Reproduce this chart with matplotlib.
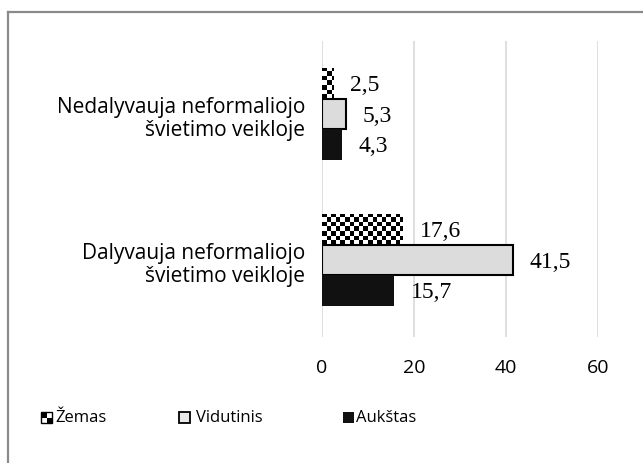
import numpy as np
import matplotlib
matplotlib.use("Agg")
import matplotlib.pyplot as plt
from matplotlib.patches import Rectangle
from matplotlib.lines import Line2D

# data
categories = ["Dalyvauja neformaliojo\nšvietimo veikloje",
              "Nedalyvauja neformaliojo\nšvietimo veikloje"]
series_names = ["Žemas", "Vidutinis", "Aukštas"]
zemas = [17.6, 2.5]
vidutinis = [41.5, 5.3]
aukstas = [15.7, 4.3]
xticks = [0, 20, 40, 60]

sans = "Open Sans"
serif = "Liberation Serif"

fig = plt.figure(figsize=(6.43, 4.64), dpi=100)
ax = fig.add_axes([322 / 643, 1 - 338 / 464, 276 / 643, 296 / 464])

y = np.arange(len(categories))
h = 0.209

# Zemas - checker pattern clipped to the bars
bars_z = ax.barh(y + h, zemas, height=h, color="white", edgecolor="none", zorder=2)
for b in bars_z:
    x0, y0 = b.get_x(), b.get_y()
    w, hh = b.get_width(), b.get_height()
    cw = 4.6 / 4.6     # ~4.6 px cells
    chh = 4.6 / 146.0
    nx = int(np.ceil(w / cw)) + 1
    ny = int(np.ceil(hh / chh)) + 1
    ii, jj = np.indices((ny, nx))
    board = ((ii + jj) % 2).astype(float)
    im = ax.imshow(board, cmap="gray", extent=[x0, x0 + nx * cw, y0, y0 + ny * chh],
                   origin="lower", interpolation="nearest", aspect="auto", zorder=3)
    im.set_clip_path(b)

bars_v = ax.barh(y, vidutinis, height=h, color="#dcdcdc", edgecolor="black",
                 linewidth=1.5, zorder=3)
bars_a = ax.barh(y - h, aukstas, height=h, color="#111111", edgecolor="none", zorder=3)

for bars, vals in [(bars_z, zemas), (bars_v, vidutinis), (bars_a, aukstas)]:
    for b, v in zip(bars, vals):
        ax.annotate(f"{v:.1f}".replace(".", ","),
                    (b.get_width(), b.get_y() + b.get_height() / 2),
                    xytext=(12, -1), textcoords="offset points",
                    ha="left", va="center", fontsize=17, family=serif,
                    annotation_clip=False)

ax.set_xlim(0, 60)
ax.set_ylim(-0.527, 1.5)
ax.set_xticks(xticks)
ax.set_xticklabels([str(t) for t in xticks], fontsize=14, family=sans)
ax.set_yticks(y)
ax.set_yticklabels(categories, fontsize=15, family=sans, linespacing=1.15)
ax.tick_params(axis="x", length=0, pad=15)
ax.tick_params(axis="y", length=0, pad=12)
for lab in ax.get_yticklabels():
    lab.set_multialignment("right")
ax.grid(axis="x", color="#d9d9d9", linewidth=1.2, zorder=0)
ax.set_axisbelow(True)
for s in ax.spines.values():
    s.set_visible(False)

# legend drawn by hand
def px(x, yy):
    return x / 643, 1 - yy / 464

s = 11
lx, ly = px(41, 424)
sw, sh = s / 643, s / 464
fig.add_artist(Rectangle((lx, ly), sw, sh, transform=fig.transFigure,
                         facecolor="white", edgecolor="black", lw=1))
fig.add_artist(Rectangle((lx, ly + sh / 2), sw / 2, sh / 2, transform=fig.transFigure,
                         facecolor="black", edgecolor="none"))
fig.add_artist(Rectangle((lx + sw / 2, ly), sw / 2, sh / 2, transform=fig.transFigure,
                         facecolor="black", edgecolor="none"))
lx2, _ = px(179, 424)
fig.add_artist(Rectangle((lx2, ly), sw, sh, transform=fig.transFigure,
                         facecolor="#e8e8e8", edgecolor="black", lw=1.3))
lx3, _ = px(343, 424)
fig.add_artist(Rectangle((lx3, ly), sw, sh, transform=fig.transFigure,
                         facecolor="#111111", edgecolor="none"))
for xx, name in [(55, "Žemas"), (196, "Vidutinis"), (356, "Aukštas")]:
    tx, ty = px(xx, 418)
    fig.text(tx, ty, name, fontsize=12, family=sans, ha="left", va="center")

# frame (top and left only)
fig.add_artist(Line2D([8 / 643, 8 / 643], [0, 1 - 13 / 464], transform=fig.transFigure,
                      color="#8a8a8a", lw=1.6))
fig.add_artist(Line2D([8 / 643, 1], [1 - 13 / 464, 1 - 13 / 464], transform=fig.transFigure,
                      color="#8a8a8a", lw=1.6))

fig.savefig("out.png", dpi=100, facecolor="white")
